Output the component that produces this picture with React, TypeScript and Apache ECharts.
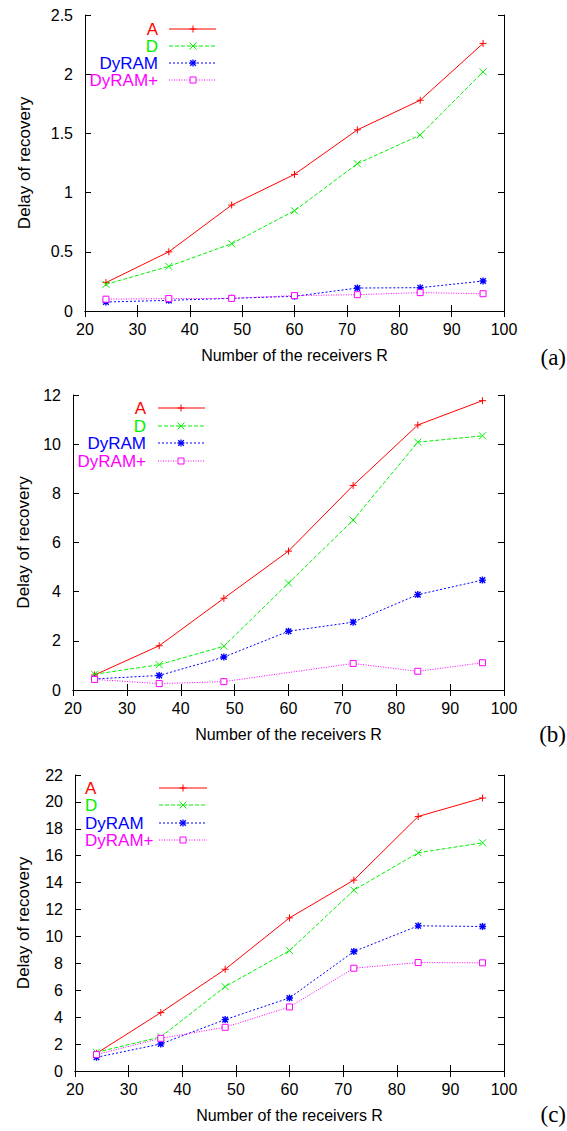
import React, { useEffect, useRef } from "react";
import * as echarts from "echarts";

// ---- data ----
const RECEIVERS = [24, 36, 48, 60, 72, 84, 96];
const X_TICKS = { min: 20, max: 100, interval: 10 };

// panel (a)
const A_a = [0.24, 0.5, 0.895, 1.154, 1.53, 1.78, 2.26];
const D_a = [0.225, 0.377, 0.568, 0.847, 1.244, 1.486, 2.02];
const DYRAM_a = [0.076, 0.09, 0.107, 0.124, 0.194, 0.197, 0.253];
const DYRAMP_a = [0.1, 0.105, 0.107, 0.13, 0.138, 0.155, 0.146];

// panel (b)
const A_b = [0.61, 1.8, 3.73, 5.65, 8.32, 10.78, 11.77];
const D_b = [0.64, 1.03, 1.78, 4.35, 6.91, 10.08, 10.34];
const DYRAM_b = [0.45, 0.59, 1.34, 2.39, 2.76, 3.88, 4.47];
const DYRAMP_b = [0.43, 0.26, 0.34, null, 1.08, 0.76, 1.11];

// panel (c)
const A_c = [1.31, 4.34, 7.56, 11.38, 14.19, 18.92, 20.29];
const D_c = [1.39, 2.53, 6.27, 8.95, 13.44, 16.22, 16.96];
const DYRAM_c = [1.02, 2.01, 3.82, 5.43, 8.88, 10.79, 10.74];
const DYRAMP_c = [1.22, 2.43, 3.25, 4.76, 7.64, 8.06, 8.04];

const SERIES_NAMES = ["A", "D", "DyRAM", "DyRAM+"];
const PANEL_LABELS = ["(a)", "(b)", "(c)"];
const Y_MAX = [2.5, 12, 22];
const Y_INTERVAL = [0.5, 2, 2];
const X_TITLE = "Number of the receivers R";
const Y_TITLE = "Delay of recovery";

const PANEL_DATA = [
  [A_a, D_a, DYRAM_a, DYRAMP_a],
  [A_b, D_b, DYRAM_b, DYRAMP_b],
  [A_c, D_c, DYRAM_c, DYRAMP_c],
];

// ---- styles / layout ----
const FONT = "'Liberation Sans', Arial, Helvetica, sans-serif";
const COLORS = ["#ff0000", "#00f000", "#0000ff", "#ff00ff"];
const DASHES: any[] = ["solid", [4, 2], [2, 2], [1, 1.5]];
const SYMBOLS = [
  "path://M0,5L10,5M5,0L5,10",
  "path://M0,0L10,10M10,0L0,10",
  "path://M0,5L10,5M5,0L5,10M1,1L9,9M9,1L1,9",
  "path://M0,0L10,0L10,10L0,10Z",
];

const LAYOUT = [
  {
    grid: { left: 85, top: 15, width: 419, height: 296 },
    yNameGap: 52,
    labelY: 360,
    legend: { align: "right", textX: 158, lineX1: 169, lineX2: 216, markX: 193, rows: [29, 46, 63, 80] },
  },
  {
    grid: { left: 73, top: 395, width: 431, height: 295 },
    yNameGap: 41,
    labelY: 737,
    legend: { align: "right", textX: 146, lineX1: 158, lineX2: 205, markX: 181, rows: [408, 426, 443, 461] },
  },
  {
    grid: { left: 75, top: 775, width: 429, height: 296 },
    yNameGap: 43,
    labelY: 1117,
    legend: { align: "left", textX: 85, lineX1: 159, lineX2: 207, markX: 183, rows: [788, 805, 823, 840] },
  },
];

function markerGraphic(kind: number, cx: number, cy: number, color: string) {
  const s = 3.5;
  const ln = (x1: number, y1: number, x2: number, y2: number, w = 1) => ({
    type: "line",
    shape: { x1: cx + x1, y1: cy + y1, x2: cx + x2, y2: cy + y2 },
    style: { stroke: color, lineWidth: w },
    silent: true,
  });
  if (kind === 0) return [ln(-s, 0, s, 0), ln(0, -s, 0, s)];
  if (kind === 1) return [ln(-s, -s, s, s), ln(s, -s, -s, s)];
  if (kind === 2)
    return [
      ln(-s, 0, s, 0, 1.3),
      ln(0, -s, 0, s, 1.3),
      ln(-s + 0.7, -s + 0.7, s - 0.7, s - 0.7, 1.3),
      ln(s - 0.7, -s + 0.7, -s + 0.7, s - 0.7, 1.3),
    ];
  return [
    {
      type: "rect",
      shape: { x: cx - 3, y: cy - 3, width: 6, height: 6 },
      style: { stroke: color, fill: "#fff", lineWidth: 1 },
      silent: true,
    },
  ];
}

function buildOption() {
  const grid: any[] = [];
  const xAxis: any[] = [];
  const yAxis: any[] = [];
  const series: any[] = [];
  const graphic: any[] = [];

  LAYOUT.forEach((lay, p) => {
    grid.push({ ...lay.grid, show: false, containLabel: false });
    const axisLine = { show: true, lineStyle: { color: "#000", width: 1 } };
    const tick = { show: true, inside: true, length: 6, lineStyle: { color: "#000", width: 1 } };
    const labelStyle = { color: "#000", fontSize: 16, fontFamily: FONT };
    xAxis.push({
      type: "value",
      gridIndex: p,
      position: "bottom",
      min: X_TICKS.min,
      max: X_TICKS.max,
      interval: X_TICKS.interval,
      axisLine,
      axisTick: tick,
      splitLine: { show: false },
      axisLabel: { ...labelStyle, margin: 10 },
      name: X_TITLE,
      nameLocation: "middle",
      nameGap: 36,
      nameTextStyle: { color: "#000", fontSize: 16, fontFamily: FONT },
    });
    xAxis.push({
      type: "value",
      gridIndex: p,
      position: "top",
      min: X_TICKS.min,
      max: X_TICKS.max,
      interval: X_TICKS.interval,
      axisLine,
      axisTick: tick,
      splitLine: { show: false },
      axisLabel: { show: false },
    });
    yAxis.push({
      type: "value",
      gridIndex: p,
      position: "left",
      min: 0,
      max: Y_MAX[p],
      interval: Y_INTERVAL[p],
      axisLine,
      axisTick: tick,
      splitLine: { show: false },
      axisLabel: { ...labelStyle, margin: 12 },
      name: Y_TITLE,
      nameLocation: "middle",
      nameGap: lay.yNameGap,
      nameTextStyle: { color: "#000", fontSize: 17, fontFamily: FONT },
    });
    yAxis.push({
      type: "value",
      gridIndex: p,
      position: "right",
      min: 0,
      max: Y_MAX[p],
      interval: Y_INTERVAL[p],
      axisLine,
      axisTick: tick,
      splitLine: { show: false },
      axisLabel: { show: false },
    });

    PANEL_DATA[p].forEach((vals, k) => {
      const data = RECEIVERS.map((x, i) => [x, vals[i]]).filter((d) => d[1] !== null);
      const isSquare = k === 3;
      series.push({
        type: "line",
        name: SERIES_NAMES[k],
        xAxisIndex: p * 2,
        yAxisIndex: p * 2,
        data,
        symbol: SYMBOLS[k],
        symbolSize: isSquare ? 6 : 7,
        showAllSymbol: true,
        lineStyle: { color: COLORS[k], width: 1, type: DASHES[k] },
        itemStyle: {
          color: isSquare ? "#ffffff" : COLORS[k],
          borderColor: COLORS[k],
          borderWidth: k === 2 ? 1.4 : 1,
        },
        emphasis: { disabled: true },
      });

      // legend row
      const lg = lay.legend;
      const ry = lg.rows[k];
      graphic.push({
        type: "text",
        x: lg.textX,
        y: ry,
        silent: true,
        style: {
          text: SERIES_NAMES[k],
          fill: COLORS[k],
          font: `17px ${FONT}`,
          textAlign: lg.align,
          textVerticalAlign: "middle",
        },
      });
      graphic.push({
        type: "line",
        silent: true,
        shape: { x1: lg.lineX1, y1: ry, x2: lg.lineX2, y2: ry },
        style: {
          stroke: COLORS[k],
          lineWidth: 1,
          lineDash: DASHES[k] === "solid" ? null : DASHES[k],
        },
      });
      markerGraphic(k, lg.markX, ry, COLORS[k]).forEach((g) => graphic.push(g));
    });

    graphic.push({
      type: "text",
      right: 1,
      top: lay.labelY - 14,
      silent: true,
      style: {
        text: PANEL_LABELS[p],
        fill: "#000",
        font: `23px 'Liberation Serif', 'DejaVu Serif', serif`,
      },
    });
  });

  return {
    animation: false,
    backgroundColor: "#fff",
    grid,
    xAxis,
    yAxis,
    series,
    graphic,
  };
}

export default function App() {
  const ref = useRef<HTMLDivElement>(null);
  useEffect(() => {
    if (!ref.current) return;
    const chart = echarts.init(ref.current, undefined, { renderer: "svg" });
    chart.setOption(buildOption() as any);
    return () => chart.dispose();
  }, []);
  return (
    <div
      ref={ref}
      style={{ position: "absolute", left: 0, top: 0, width: 567, height: 1131, background: "#fff" }}
    />
  );
}
